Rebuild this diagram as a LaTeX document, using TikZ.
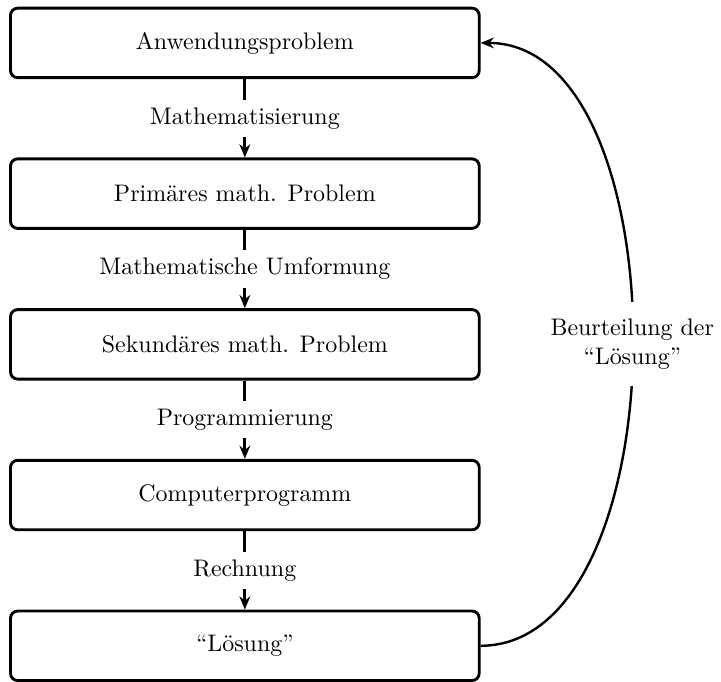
\documentclass[tikz,border=0pt]{standalone}
\usetikzlibrary{positioning,arrows.meta}
\begin{document}
\begin{tikzpicture}[
    node distance=1.15cm,
    stage/.style={draw, very thick, rounded corners=3pt, minimum width=6.88cm, minimum height=1.02cm},
    flow/.style={very thick, -{Stealth[length=5.5pt,width=4.5pt]}},
    steplabel/.style={fill=white}
  ]
    \useasboundingbox (-3.594,0.630) rectangle (6.989,-9.38);

    % Stages
    \node[stage] (anw) at (0,0) {Anwendungsproblem};
    \node[stage, below=of anw] (prim) {Primäres math. Problem};
    \node[stage, below=of prim] (sek) {Sekundäres math. Problem};
    \node[stage, below=of sek] (prog) {Computerprogramm};
    \node[stage, below=of prog] (loes) {“Lösung”};

    % Arrows
    \draw[flow] (anw) -- node[steplabel] {Mathematisierung} (prim);
    \draw[flow] (prim) -- node[steplabel] {Mathematische Umformung} (sek);
    \draw[flow] (sek) -- node[steplabel] {Programmierung} (prog);
    \draw[flow] (prog) -- node[steplabel] {Rechnung} (loes);

    % Feedback
    \draw[line width=1pt, -{Stealth[length=5.5pt,width=4.5pt]}] (loes.east)
        to[out=0, in=0, looseness=0.86]
        node[fill=white, align=center, inner ysep=7pt] (beurt) {Beurteilung der\\“Lösung”}
        (anw.east);
\end{tikzpicture}
\end{document}
